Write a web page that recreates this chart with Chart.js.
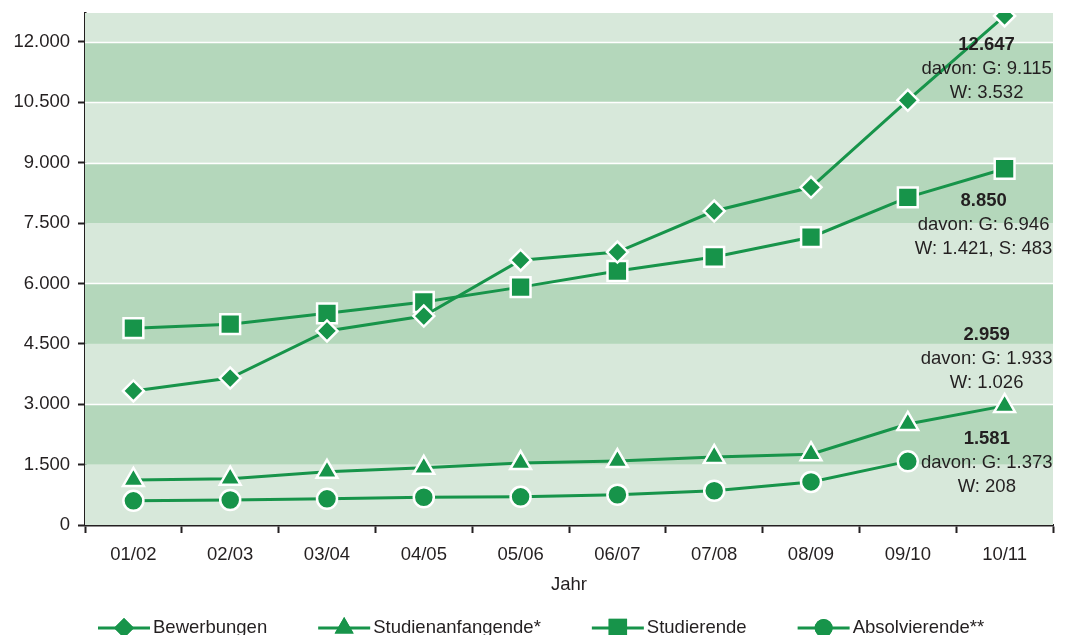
<!DOCTYPE html>
<html>
<head>
<meta charset="utf-8">
<script src="https://cdn.jsdelivr.net/npm/chart.js@4.4.1/dist/chart.umd.min.js"></script>
<style>
    html, body { margin: 0; padding: 0; background: #fff; }
</style>
</head>
<body>
<canvas id="chart" width="1067" height="635"></canvas>
<script>
// Data
const years = ["01/02", "02/03", "03/04", "04/05", "05/06", "06/07", "07/08", "08/09", "09/10", "10/11"];
const bewerbungen       = [3330, 3650, 4820, 5190, 6580, 6780, 7800, 8390, 10550, 12647];
const studienanfangende = [1120, 1150, 1320, 1420, 1540, 1590, 1690, 1760, 2510, 2959];
const studierende       = [4890, 4990, 5260, 5540, 5910, 6310, 6660, 7150, 8140, 8850];
const absolvierende     = [600, 620, 650, 690, 700, 750, 850, 1070, 1581, null];
const yTicks = [0, 1500, 3000, 4500, 6000, 7500, 9000, 10500, 12000];
const whiteLines = [3000, 6000, 9000, 10500, 12000];

const GREEN = "#17944a";
const TEXT = "#231f20";
const FONT = "'Liberation Sans', Arial, sans-serif";
const SIZE = 18.5;

// German thousands separator
function fmt(v) {
    return String(v).replace(/\B(?=(\d{3})+(?!\d))/g, ".");
}

// Labels next to the last points: [dataset index, category index, dx, dy, lines]
const notes = [
    [0, 9, -18, 29, [fmt(12647), "davon: G: " + fmt(9115), "W: " + fmt(3532)]],
    [2, 9, -21, 32, [fmt(8850), "davon: G: " + fmt(6946), "W: " + fmt(1421) + ", S: 483"]],
    [1, 9, -18, -71, [fmt(2959), "davon: G: " + fmt(1933), "W: " + fmt(1026)]],
    [3, 8, 79, -22, [fmt(1581), "davon: G: " + fmt(1373), "W: 208"]]
];

// Alternating background bands
const bandPlugin = {
    id: "bands",
    beforeDatasetsDraw(chart) {
        const { ctx, chartArea: a, scales: { y } } = chart;
        ctx.save();
        for (let v = 0; v < y.max; v += 1500) {
            const top = y.getPixelForValue(Math.min(v + 1500, y.max));
            const bottom = y.getPixelForValue(v);
            ctx.fillStyle = (v / 1500) % 2 === 1 ? "#b4d7bb" : "#d7e8da";
            ctx.fillRect(a.left, top, a.right - a.left, bottom - top);
        }
        ctx.strokeStyle = "#ffffff";
        ctx.lineWidth = 1.5;
        whiteLines.forEach(v => {
            const py = Math.round(y.getPixelForValue(v)) + 0.5;
            ctx.beginPath();
            ctx.moveTo(a.left, py);
            ctx.lineTo(a.right, py);
            ctx.stroke();
        });
        ctx.restore();
    }
};

// Value notes
const notePlugin = {
    id: "notes",
    afterDatasetsDraw(chart) {
        const { ctx } = chart;
        ctx.save();
        ctx.fillStyle = TEXT;
        ctx.textAlign = "center";
        ctx.textBaseline = "middle";
        notes.forEach(([ds, idx, dx, dy, lines]) => {
            const pt = chart.getDatasetMeta(ds).data[idx];
            lines.forEach((t, i) => {
                ctx.font = (i === 0 ? "bold " : "") + SIZE + "px " + FONT;
                ctx.fillText(t, pt.x + dx, pt.y + dy + i * 24);
            });
        });
        ctx.restore();
    }
};

// Legend: line - marker - line, then text
const legendPlugin = {
    id: "lineLegend",
    afterDraw(chart) {
        const { ctx } = chart;
        let x = 98;
        const yy = 628;
        ctx.save();
        ctx.font = SIZE + "px " + FONT;
        ctx.textBaseline = "middle";
        chart.data.datasets.forEach(ds => {
            ctx.strokeStyle = GREEN;
            ctx.lineWidth = 3;
            ctx.beginPath();
            ctx.moveTo(x, yy);
            ctx.lineTo(x + 52, yy);
            ctx.stroke();
            ctx.fillStyle = GREEN;
            Chart.helpers.drawPoint(ctx, {
                pointStyle: ds.pointStyle,
                radius: ds.legendRadius,
                borderWidth: 0
            }, x + 26, yy);
            ctx.fill();
            ctx.fillStyle = TEXT;
            ctx.fillText(ds.label, x + 55, yy);
            x += 55 + ctx.measureText(ds.label).width + 51;
        });
        ctx.restore();
    }
};

function series(label, data, style, radius, legendRadius) {
    return {
        label, data,
        borderColor: GREEN,
        backgroundColor: GREEN,
        borderWidth: 3,
        pointStyle: style,
        pointRadius: radius,
        pointHoverRadius: radius,
        pointBackgroundColor: GREEN,
        pointBorderColor: "#ffffff",
        pointBorderWidth: 2.5,
        legendRadius,
        tension: 0,
        spanGaps: false
    };
}

new Chart(document.getElementById("chart"), {
    type: "line",
    data: {
        labels: years,
        datasets: [
            series("Bewerbungen", bewerbungen, "rectRot", 10.5, 10),
            series("Studienanfangende*", studienanfangende, "triangle", 12, 11),
            series("Studierende", studierende, "rect", 14, 13),
            series("Absolvierende**", absolvierende, "circle", 10, 9)
        ]
    },
    options: {
        responsive: false,
        devicePixelRatio: 1,
        animation: false,
        layout: { autoPadding: false, padding: { top: 13, right: 14, bottom: 0, left: 0 } },
        plugins: {
            legend: { display: false },
            tooltip: { enabled: false }
        },
        scales: {
            x: {
                offset: true,
                afterFit: s => { s.height = 110; s.paddingLeft = 0; s.paddingRight = 0; },
                grid: {
                    offset: true,
                    drawOnChartArea: false,
                    drawTicks: true,
                    tickLength: 8,
                    tickWidth: 2,
                    tickColor: TEXT
                },
                border: { color: TEXT, width: 2.5 },
                ticks: {
                    color: TEXT,
                    padding: 11,
                    font: { family: FONT, size: SIZE },
                    maxRotation: 0
                },
                title: {
                    display: true,
                    text: "Jahr",
                    color: TEXT,
                    font: { family: FONT, size: SIZE },
                    padding: { top: 0, bottom: 39 }
                }
            },
            y: {
                min: 0,
                max: 12720,
                afterFit: s => { s.width = 85; s.paddingTop = 0; s.paddingBottom = 0; },
                afterBuildTicks: s => { s.ticks = yTicks.map(v => ({ value: v })); },
                grid: {
                    drawOnChartArea: false,
                    drawTicks: true,
                    tickLength: 7,
                    tickWidth: 2,
                    tickColor: TEXT
                },
                border: { color: TEXT, width: 2.5 },
                ticks: {
                    color: TEXT,
                    padding: 8,
                    font: { family: FONT, size: SIZE },
                    callback: v => fmt(v)
                }
            }
        }
    },
    plugins: [bandPlugin, notePlugin, legendPlugin]
});
</script>
</body>
</html>
